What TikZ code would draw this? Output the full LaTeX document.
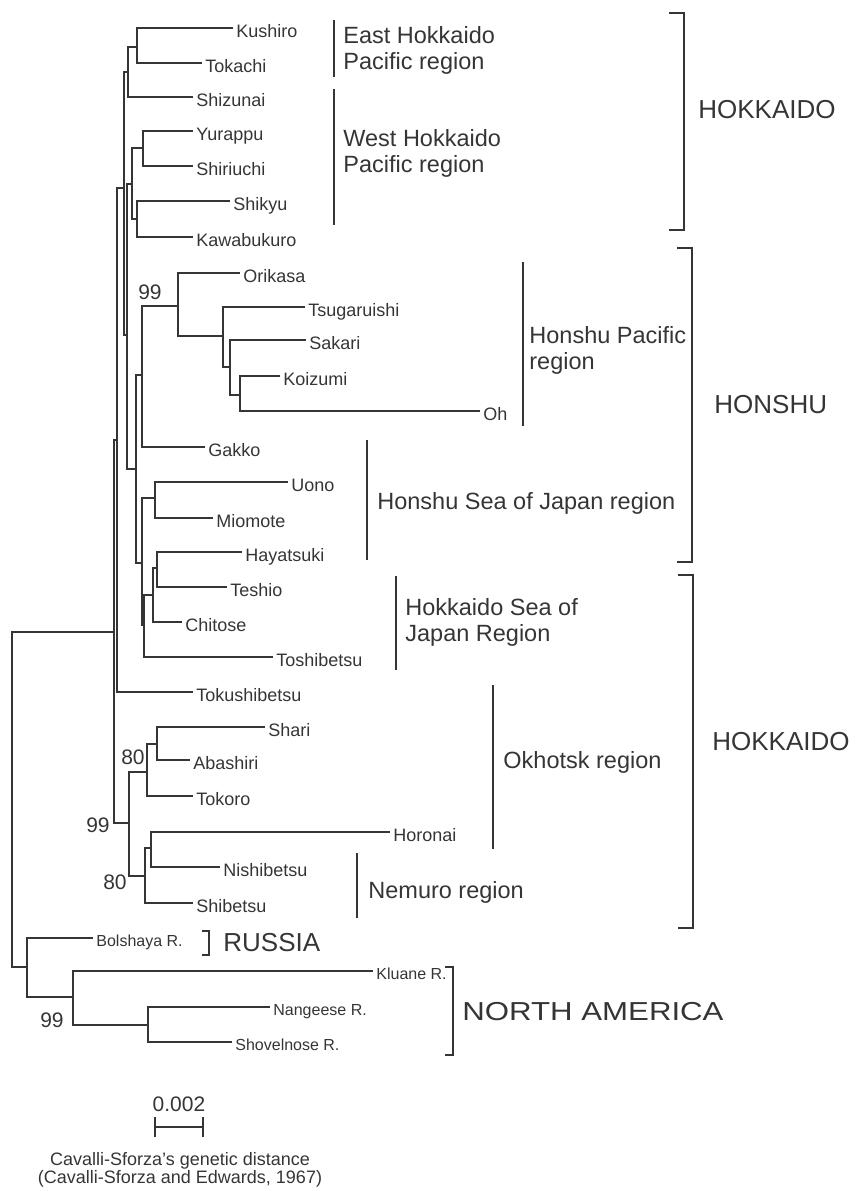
\documentclass[tikz,border=0pt]{standalone}
\usepackage{fontspec}
\setmainfont{Liberation Sans}
\definecolor{treegray}{HTML}{353535}
\tikzset{
  branch/.style={line width=1.35pt, draw=treegray},
  leaf/.style={anchor=west, inner xsep=1.5pt, inner ysep=0pt, text=treegray,
    text height=9pt, text depth=0pt, font=\fontsize{9}{10}\selectfont},
  smallleaf/.style={leaf, text height=8pt, font=\fontsize{8}{9}\selectfont},
  boot/.style={inner sep=0pt, text=treegray, font=\fontsize{10.5}{12}\selectfont},
  region/.style={anchor=west, align=left, inner sep=0pt, text=treegray,
    font=\fontsize{11.75}{13}\selectfont},
  island/.style={anchor=west, inner sep=0pt, text=treegray, font=\fontsize{13}{15}\selectfont},
}
\begin{document}
\begin{tikzpicture}[x=0.5pt, y=-0.5pt]
    \useasboundingbox (0,0) rectangle (856,1191);
    \node[leaf] (kushiro) at (233,28) {Kushiro};
    \node[leaf] (tokachi) at (202,63) {Tokachi};
    \node[leaf] (shizunai) at (193,97) {Shizunai};
    \node[leaf] (yurappu) at (193,131) {Yurappu};
    \node[leaf] (shiriuchi) at (193,166) {Shiriuchi};
    \node[leaf] (shikyu) at (230,201) {Shikyu};
    \node[leaf] (kawabukuro) at (193,237) {Kawabukuro};
    \node[leaf] (orikasa) at (240,273) {Orikasa};
    \node[leaf] (tsugaruishi) at (305,307) {Tsugaruishi};
    \node[leaf] (sakari) at (306,340) {Sakari};
    \node[leaf] (koizumi) at (280,376) {Koizumi};
    \node[leaf] (oh) at (480,411) {Oh};
    \node[leaf] (gakko) at (205,447) {Gakko};
    \node[leaf] (uono) at (288,482) {Uono};
    \node[leaf] (miomote) at (213,518) {Miomote};
    \node[leaf] (hayatsuki) at (242,552) {Hayatsuki};
    \node[leaf] (teshio) at (227,587) {Teshio};
    \node[leaf] (chitose) at (182,622) {Chitose};
    \node[leaf] (toshibetsu) at (273,657) {Toshibetsu};
    \node[leaf] (tokushibetsu) at (193,692) {Tokushibetsu};
    \node[leaf] (shari) at (265,727) {Shari};
    \node[leaf] (abashiri) at (190,760) {Abashiri};
    \node[leaf] (tokoro) at (193,796) {Tokoro};
    \node[leaf] (horonai) at (390,832) {Horonai};
    \node[leaf] (nishibetsu) at (220,867) {Nishibetsu};
    \node[leaf] (shibetsu) at (193,903) {Shibetsu};
    \node[smallleaf] (bolshaya) at (93,938) {Bolshaya R.};
    \node[smallleaf] (kluane) at (373,971) {Kluane R.};
    \node[smallleaf] (nangeese) at (270,1007) {Nangeese R.};
    \node[smallleaf] (shovelnose) at (232,1042) {Shovelnose R.};
    \coordinate (root) at (12,800);
    \coordinate (japan) at (114,632);
    \coordinate (japanA) at (117,440);
    \coordinate (pacA) at (124,188);
    \coordinate (eastHk) at (128,72);
    \coordinate (kusTok) at (137,47);
    \coordinate (pacB) at (127,335);
    \coordinate (westHk) at (132,184);
    \coordinate (yurShi) at (143,148);
    \coordinate (shiKaw) at (137,219);
    \coordinate (pacC) at (136,469);
    \coordinate (honPac) at (142,375);
    \coordinate (oriNode) at (178,306);
    \coordinate (tsuNode) at (223,336);
    \coordinate (sakNode) at (230,367);
    \coordinate (koiOh) at (240,395);
    \coordinate (seaJp) at (142,563);
    \coordinate (uonMio) at (155,498);
    \coordinate (hkSea) at (144,625);
    \coordinate (chiNode) at (153,595);
    \coordinate (hayTes) at (157,568);
    \coordinate (okhotsk) at (129,823);
    \coordinate (tokNode) at (147,772);
    \coordinate (shaAba) at (157,744);
    \coordinate (nemuro) at (145,876);
    \coordinate (horNis) at (151,848);
    \coordinate (foreign) at (27,967);
    \coordinate (namerica) at (73,997);
    \coordinate (nanSho) at (148,1025);
    \draw[branch] (root) |- (japan) (root) |- (foreign);
    \draw[branch] (japan) |- (japanA) (japan) |- (okhotsk);
    \draw[branch] (japanA) |- (pacA) (japanA) |- (tokushibetsu.west);
    \draw[branch] (pacA) |- (eastHk) (pacA) |- (pacB);
    \draw[branch] (eastHk) |- (kusTok) (eastHk) |- (shizunai.west);
    \draw[branch] (kusTok) |- (kushiro.west) (kusTok) |- (tokachi.west);
    \draw[branch] (pacB) |- (westHk) (pacB) |- (pacC);
    \draw[branch] (westHk) |- (yurShi) (westHk) |- (shiKaw);
    \draw[branch] (yurShi) |- (yurappu.west) (yurShi) |- (shiriuchi.west);
    \draw[branch] (shiKaw) |- (shikyu.west) (shiKaw) |- (kawabukuro.west);
    \draw[branch] (pacC) |- (honPac) (pacC) |- (seaJp);
    \draw[branch] (honPac) |- (oriNode) (honPac) |- (gakko.west);
    \draw[branch] (oriNode) |- (orikasa.west) (oriNode) |- (tsuNode);
    \draw[branch] (tsuNode) |- (tsugaruishi.west) (tsuNode) |- (sakNode);
    \draw[branch] (sakNode) |- (sakari.west) (sakNode) |- (koiOh);
    \draw[branch] (koiOh) |- (koizumi.west) (koiOh) |- (oh.west);
    \draw[branch] (seaJp) |- (uonMio) (seaJp) |- (hkSea);
    \draw[branch] (uonMio) |- (uono.west) (uonMio) |- (miomote.west);
    \draw[branch] (hkSea) |- (chiNode) (hkSea) |- (toshibetsu.west);
    \draw[branch] (chiNode) |- (hayTes) (chiNode) |- (chitose.west);
    \draw[branch] (hayTes) |- (hayatsuki.west) (hayTes) |- (teshio.west);
    \draw[branch] (okhotsk) |- (tokNode) (okhotsk) |- (nemuro);
    \draw[branch] (tokNode) |- (shaAba) (tokNode) |- (tokoro.west);
    \draw[branch] (shaAba) |- (shari.west) (shaAba) |- (abashiri.west);
    \draw[branch] (nemuro) |- (horNis) (nemuro) |- (shibetsu.west);
    \draw[branch] (horNis) |- (horonai.west) (horNis) |- (nishibetsu.west);
    \draw[branch] (foreign) |- (bolshaya.west) (foreign) |- (namerica);
    \draw[branch] (namerica) |- (kluane.west) (namerica) |- (nanSho);
    \draw[branch] (nanSho) |- (nangeese.west) (nanSho) |- (shovelnose.west);
    \node[boot] (bsHonPac) at (150,292) {99};
    \node[boot] (bsShari) at (133,757) {80};
    \node[boot] (bsOkhotsk) at (98,825) {99};
    \node[boot] (bsNemuro) at (115,882) {80};
    \node[boot] (bsAmerica) at (52,1020) {99};
    \draw[branch] (334,20) -- (334,77);
    \node[region] (eastLbl) at (343,50) {East Hokkaido\\Pacific region};
    \draw[branch] (334,89) -- (334,225);
    \node[region] (westLbl) at (343,153) {West Hokkaido\\Pacific region};
    \draw[branch] (523,262) -- (523,426);
    \node[region] (honPacLbl) at (529,350) {Honshu Pacific\\region};
    \draw[branch] (367,440) -- (367,560);
    \node[region] (honSeaLbl) at (377,503) {Honshu Sea of Japan region};
    \draw[branch] (396,576) -- (396,670);
    \node[region] (hkSeaLbl) at (405,622) {Hokkaido Sea of\\Japan Region};
    \draw[branch] (493,685) -- (493,849);
    \node[region] (okhLbl) at (503,762) {Okhotsk region};
    \draw[branch] (357,853) -- (357,918);
    \node[region] (nemLbl) at (368,892) {Nemuro region};
    \draw[branch] (669,13) -- (684,13) -- (684,230) -- (669,230);
    \node[island] (hokkaidoTop) at (698,110) {HOKKAIDO};
    \draw[branch] (677,248) -- (692,248) -- (692,562) -- (677,562);
    \node[island] (honshu) at (714,405) {HONSHU};
    \draw[branch] (678,575) -- (693,575) -- (693,928) -- (678,928);
    \node[island] (hokkaidoLow) at (712,742) {HOKKAIDO};
    \draw[branch] (202,931) -- (209,931) -- (209,955) -- (202,955);
    \node[island] (russia) at (223,943) {RUSSIA};
    \draw[branch] (445,967) -- (453,967) -- (453,1055) -- (445,1055);
    \node[island] (america) at (462,1012) {\scalebox{1.2}[1]{NORTH AMERICA}};
    \draw[branch] (155,1127) -- (203,1127);
    \draw[branch] (155,1117) -- (155,1137) (203,1117) -- (203,1137);
    \node[boot] (scale) at (179,1104) {0.002};
    \node[align=center, inner sep=0pt, text=treegray, font=\fontsize{9}{9.3}\selectfont]
          (caption) at (180,1170) {Cavalli-Sforza's genetic distance\\(Cavalli-Sforza and Edwards, 1967)};
  \end{tikzpicture}
\end{document}
